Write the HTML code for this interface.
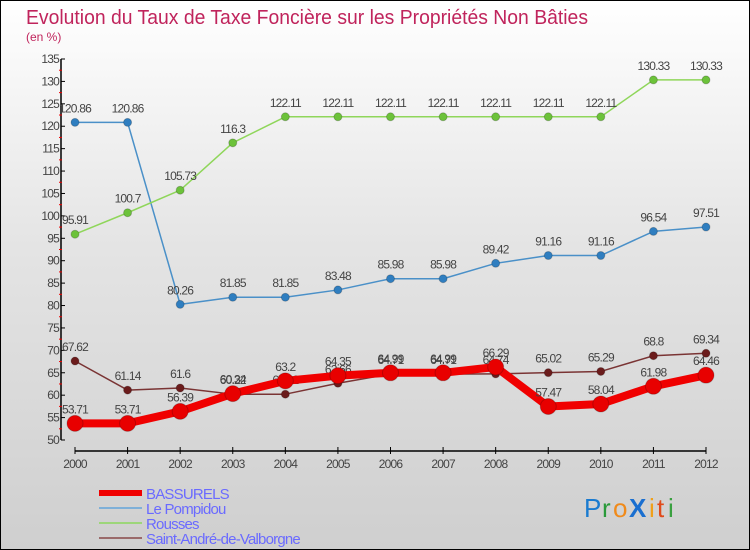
<!DOCTYPE html>
<html><head><meta charset="utf-8"><style>
html,body{margin:0;padding:0}
body{width:750px;height:550px;overflow:hidden;font-family:"Liberation Sans",sans-serif}
#wrap{position:relative;width:748px;height:548px;border:1px solid #000;background:linear-gradient(#ffffff 0%,#e4e4e4 45%,#cfcfcf 100%)}
svg{position:absolute;left:0;top:0}
</style></head><body>
<div id="wrap">
<svg id="chart" width="748" height="548">
<text x="25" y="23" font-size="20" fill="#c0245c" font-family="Liberation Sans, sans-serif" textLength="562" lengthAdjust="spacingAndGlyphs">Evolution du Taux de Taxe Foncière sur les Propriétés Non Bâties</text>
<text x="25" y="40" font-size="12" fill="#c0245c">(en %)</text>
<g id="axes"></g><g id="series"></g><g id="legend"></g>
<g font-size="26" font-family="Liberation Sans, sans-serif">
<text x="583" y="516" fill="#1a7bd0">P</text><text x="601" y="516" fill="#2a9a3a">r</text><text x="612" y="516" fill="#f08a1a">o</text><text x="628" y="516" fill="#1a6fd0" font-weight="bold">X</text><text x="648" y="516" fill="#f0a01a">i</text><text x="656" y="516" fill="#e04a1a">t</text><text x="667" y="516" fill="#3aa040">i</text>
</g>
</svg>
</div>
<script>
const years=[2000,2001,2002,2003,2004,2005,2006,2007,2008,2009,2010,2011,2012];
const yTicks=[50,55,60,65,70,75,80,85,90,95,100,105,110,115,120,125,130,135];
const seriesNames=["BASSURELS","Le Pompidou","Rousses","Saint-André-de-Valborgne"];
const bassurels=[53.71,53.71,56.39,60.34,63.2,64.35,64.99,64.99,66.29,57.47,58.04,61.98,64.46];
const pompidou=[120.86,120.86,80.26,81.85,81.85,83.48,85.98,85.98,89.42,91.16,91.16,96.54,97.51];
const rousses=[95.91,100.7,105.73,116.3,122.11,122.11,122.11,122.11,122.11,122.11,122.11,130.33,130.33];
const standre=[67.62,61.14,61.6,60.22,60.22,62.66,64.71,64.71,64.74,65.02,65.29,68.8,69.34];

const NS="http://www.w3.org/2000/svg";
const X0=74,X1=705,Y0=439,Y1=58,VMIN=50,VMAX=135;
function xs(i){return X0+(X1-X0)*i/(years.length-1);}
function ys(v){return Y0-(v-VMIN)/(VMAX-VMIN)*(Y0-Y1);}
function mk(tag,attrs,parent){const e=document.createElementNS(NS,tag);for(const k in attrs)e.setAttribute(k,attrs[k]);parent.appendChild(e);return e;}
const axes=document.getElementById('axes'),ser=document.getElementById('series'),leg=document.getElementById('legend');

let yl=mk('line',{x1:60,y1:Y1,x2:60,y2:Y0,stroke:'#000','stroke-width':1.5},axes);


yTicks.forEach(t=>{
 const y=ys(t);
 const l=mk('line',{x1:60,y1:y,x2:64,y2:y,stroke:'#000'},axes);
 
 
 if(t<VMAX){const m=mk('line',{x1:58,y1:ys(t+2.5),x2:61,y2:ys(t+2.5),stroke:'#e00'},axes);
 
 }
 const tx=mk('text',{x:58,y:y+4,'text-anchor':'end','font-size':12,fill:'#444','letter-spacing':'-0.8'},axes);
 tx.textContent=t;
 
 
});
let xl=mk('line',{x1:X0,y1:450,x2:X1,y2:450,stroke:'#000','stroke-width':1.5},axes);


years.forEach((yr,i)=>{
 const x=xs(i);
 const l=mk('line',{x1:x,y1:446,x2:x,y2:453,stroke:'#000'},axes);
 
 
 const tx=mk('text',{x:x,y:467,'text-anchor':'middle','font-size':12,fill:'#444','letter-spacing':'-0.8'},axes);
 tx.textContent=yr;
 
 
});

const defs=[
 {data:pompidou,color:'#4a90c8',dot:'#2f7ec0',w:1.5,r:4,name:'pompidou'},
 {data:rousses,color:'#8fd65a',dot:'#6cc23a',w:1.5,r:4,name:'rousses'},
 {data:standre,color:'#7a3434',dot:'#6b1c1c',w:1.5,r:4,name:'saint-andre'},
 {data:bassurels,color:'#f00000',dot:'#e80000',w:8,r:8,name:'bassurels'}
];
defs.forEach(d=>{
 const g=mk('g',{},ser);
 
 
 const pl=mk('polyline',{points:d.data.map((v,i)=>xs(i)+','+ys(v)).join(' '),fill:'none',stroke:d.color,'stroke-width':d.w,'stroke-linejoin':'round'},g);
 
 
 d.data.forEach((v,i)=>{
  const c=mk('circle',{cx:xs(i),cy:ys(v),r:d.r,fill:d.dot,stroke:'rgba(0,0,0,0.2)'},g);
  
  
  const t=mk('text',{x:xs(i),y:ys(v)-10,'text-anchor':'middle','font-size':12,fill:'#444','letter-spacing':'-0.8'},g);
  t.textContent=v;
  
  
 });
});

const legColors=['#f00000','#7fb0d8','#9dd67a','#9a6a6a'];
const legW=[6,2,2,2];
seriesNames.forEach((n,i)=>{
 const y=492+i*15;
 const g=mk('g',{},leg);
 
 
 mk('line',{x1:98,y1:y,x2:141,y2:y,stroke:legColors[i],'stroke-width':legW[i]},g);
 const t=mk('text',{x:145,y:y+6,'font-size':15,fill:'#6a6aff','letter-spacing':'-0.8'},g);
 t.textContent=n;
});
</script>
</body></html>
